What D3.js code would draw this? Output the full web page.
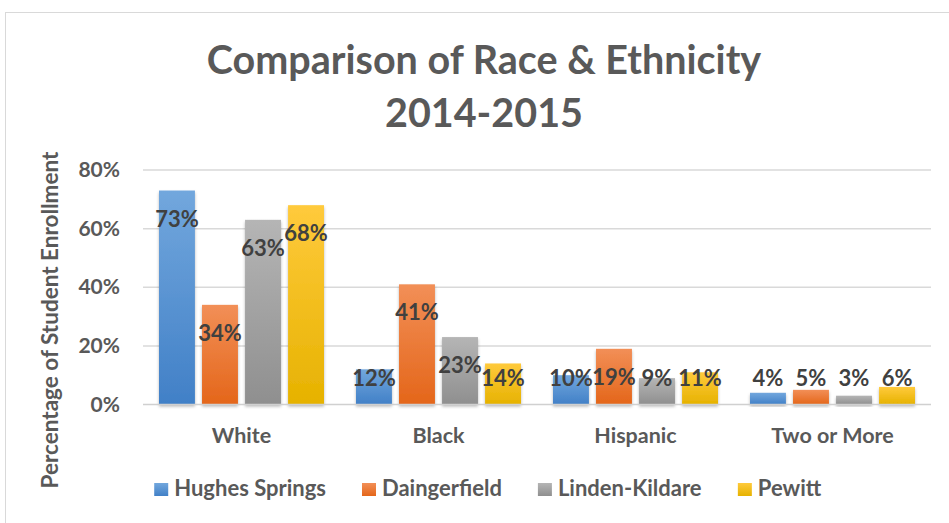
<!DOCTYPE html>
<html>
<head>
<meta charset="utf-8">
<script src="https://cdn.jsdelivr.net/npm/d3@7"></script>
<style>
  html, body { margin: 0; padding: 0; background: #fff; }
  svg { display: block; font-family: Lato, "Open Sans", sans-serif; }
</style>
</head>
<body>
<div id="chart"></div>
<script>
// Data
const categories = ["White", "Black", "Hispanic", "Two or More"];
const seriesNames = ["Hughes Springs", "Daingerfield", "Linden-Kildare", "Pewitt"];
const hughesSprings = [73, 12, 10, 4];
const daingerfield  = [34, 41, 19, 5];
const lindenKildare = [63, 23, 9, 3];
const pewitt        = [68, 14, 11, 6];
const yTicks = [0, 20, 40, 60, 80];

const seriesValues = [hughesSprings, daingerfield, lindenKildare, pewitt];

// Layout
const width = 949, height = 523;
const plot = { left: 143, right: 931, top: 170, bottom: 404.5 };
const groupPad = 16;
const colors = [
  { top: "#72a7dd", bottom: "#4180c7" },
  { top: "#f28f57", bottom: "#e4661a" },
  { top: "#b5b5b5", bottom: "#8f8f8f" },
  { top: "#ffca3c", bottom: "#e6b200" }
];
const textDark = "#404040";
const textGray = "#595959";

const svg = d3.select("#chart").append("svg")
  .attr("width", width)
  .attr("height", height);

const defs = svg.append("defs");
colors.forEach((c, i) => {
  const g = defs.append("linearGradient")
    .attr("id", "grad" + i)
    .attr("x1", 0).attr("y1", 0).attr("x2", 0).attr("y2", 1);
  g.append("stop").attr("offset", "0%").attr("stop-color", c.top);
  g.append("stop").attr("offset", "100%").attr("stop-color", c.bottom);
});
const shadow = defs.append("filter").attr("id", "shadow")
  .attr("x", "-20%").attr("y", "-20%").attr("width", "140%").attr("height", "140%");
shadow.append("feDropShadow")
  .attr("dx", 0).attr("dy", 2).attr("stdDeviation", 1.6)
  .attr("flood-color", "#000").attr("flood-opacity", 0.28);

// Chart border (cut off at right and bottom like the reference)
svg.append("rect")
  .attr("x", 5.5).attr("y", 12.5)
  .attr("width", 1000).attr("height", 600)
  .attr("fill", "none")
  .attr("stroke", "#d9d9d9");

// Title
const title = svg.append("text")
  .attr("text-anchor", "middle")
  .attr("fill", textGray)
  .style("font-size", "39.5px")
  .style("font-weight", 700);
title.append("tspan").attr("x", 484).attr("y", 74).text("Comparison of Race & Ethnicity");
title.append("tspan").attr("x", 484).attr("y", 127).text("2014-2015");

// Scales
const x0 = d3.scaleBand()
  .domain(categories)
  .range([plot.left, plot.right])
  .padding(0);

const x1 = d3.scaleBand()
  .domain(seriesNames)
  .range([groupPad, x0.bandwidth() - groupPad])
  .paddingInner(0.165)
  .paddingOuter(0);

const y = d3.scaleLinear()
  .domain([0, 80])
  .range([plot.bottom, plot.top]);

// Gridlines
svg.append("g")
  .selectAll("line")
  .data(yTicks.filter(d => d > 0))
  .join("line")
  .attr("x1", plot.left).attr("x2", plot.right)
  .attr("y1", d => y(d)).attr("y2", d => y(d))
  .attr("stroke", "#d9d9d9")
  .attr("stroke-width", 1.5);

// Y axis labels
const yAxis = d3.axisLeft(y)
  .tickValues(yTicks)
  .tickFormat(d => d + "%")
  .tickSize(0)
  .tickPadding(23);
const yAxisG = svg.append("g")
  .attr("transform", `translate(${plot.left},0)`)
  .call(yAxis);
yAxisG.select(".domain").remove();
yAxisG.selectAll("text")
  .attr("fill", textGray)
  .style("font-size", "21px")
  .style("font-weight", 700)
  .style("font-family", "Lato, sans-serif");

// Y axis title
svg.append("text")
  .attr("transform", `translate(58,320) rotate(-90)`)
  .attr("text-anchor", "middle")
  .attr("fill", textGray)
  .style("font-size", "22.5px")
  .style("font-weight", 700)
  .text("Percentage of Student Enrollment");

// Bars
const groups = svg.append("g")
  .selectAll("g")
  .data(categories)
  .join("g")
  .attr("transform", d => `translate(${x0(d)},0)`);

const barData = (cat, ci) => seriesNames.map((s, si) => ({
  series: s, si, value: seriesValues[si][ci]
}));

groups.selectAll("rect")
  .data((d, ci) => barData(d, ci))
  .join("rect")
  .attr("x", d => x1(d.series))
  .attr("y", d => y(d.value))
  .attr("width", x1.bandwidth())
  .attr("height", d => y(0) - y(d.value))
  .attr("fill", d => `url(#grad${d.si})`)
  .attr("filter", "url(#shadow)");

// Baseline
svg.append("line")
  .attr("x1", plot.left).attr("x2", plot.right)
  .attr("y1", y(0)).attr("y2", y(0))
  .attr("stroke", "#d0d0d0")
  .attr("stroke-width", 1.5);

// Data labels
groups.selectAll("text.value")
  .data((d, ci) => barData(d, ci))
  .join("text")
  .attr("class", "value")
  .attr("x", d => x1(d.series) + x1.bandwidth() / 2)
  .attr("y", d => Math.min(y(d.value) + 36, y(0) - 18.5))
  .attr("text-anchor", "middle")
  .attr("fill", textDark)
  .style("font-size", "22px")
  .style("font-weight", 700)
  .text(d => d.value + "%");

// Category labels
svg.append("g")
  .selectAll("text")
  .data(categories)
  .join("text")
  .attr("x", d => x0(d) + x0.bandwidth() / 2)
  .attr("y", 443)
  .attr("text-anchor", "middle")
  .attr("fill", textGray)
  .style("font-size", "21.5px")
  .style("font-weight", 700)
  .text(d => d);

// Legend
const legend = svg.append("g");
const items = legend.selectAll("g")
  .data(seriesNames)
  .join("g");
items.append("rect")
  .attr("width", 14).attr("height", 13)
  .attr("y", -13)
  .attr("fill", (d, i) => `url(#grad${i})`);
items.append("text")
  .attr("x", 20)
  .attr("fill", textGray)
  .style("font-size", "22px")
  .style("font-weight", 700)
  .text(d => d);

let cursor = 0;
const legendGap = 36;
const offsets = [];
items.each(function() {
  offsets.push(cursor);
  const w = this.getBBox().width;
  cursor += w + legendGap;
});
const totalW = cursor - legendGap;
const legendStart = 488 - totalW / 2;
items.attr("transform", (d, i) => `translate(${legendStart + offsets[i]},496)`);
</script>
</body>
</html>
